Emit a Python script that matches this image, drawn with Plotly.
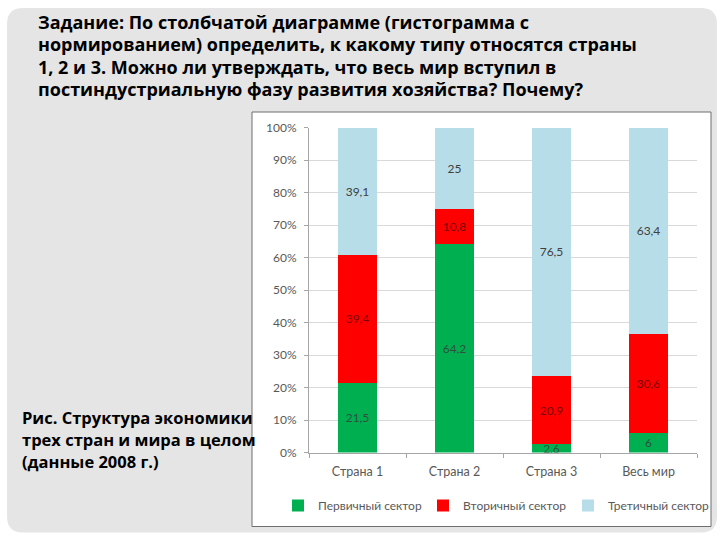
import plotly.graph_objects as go

W, H = 720, 540

categories = ["Страна 1", "Страна 2", "Страна 3", "Весь мир"]
primary = [21.5, 64.2, 2.6, 6]
secondary = [39.4, 10.8, 20.9, 30.6]
tertiary = [39.1, 25, 76.5, 63.4]
series_names = ["Первичный сектор", "Вторичный сектор", "Третичный сектор"]
y_ticks = [0, 10, 20, 30, 40, 50, 60, 70, 80, 90, 100]

title_lines = [
    "Задание: По столбчатой диаграмме (гистограмма с",
    "нормированием) определить, к какому типу относятся страны",
    "1, 2 и 3. Можно ли утверждать, что весь мир вступил в",
    "постиндустриальную фазу развития хозяйства? Почему?",
]
caption_lines = [
    "Рис. Структура экономики",
    "трех стран и мира в целом",
    "(данные 2008 г.)",
]


def fmt(v):
    s = ("%g" % v)
    return s.replace(".", ",")


def px(x):
    return x / W


# the photographed page maps the figure height onto ~525 px starting at ~7.5 px
def py(y):
    return 1 - (y - 7.5) / 525.0


colors = ["#00b050", "#ff0000", "#b7dde8"]
label_colors = ["#2f4f3f", "#7a0000", "#404040"]

fig = go.Figure()
for name, vals, c, lc in zip(series_names, [primary, secondary, tertiary], colors, label_colors):
    fig.add_trace(go.Bar(
        x=categories, y=vals, name=name,
        marker=dict(color=c, line=dict(width=0)),
        text=[fmt(v) for v in vals],
        textposition="inside", insidetextanchor="middle", textangle=0,
        textfont=dict(family="Lato, Open Sans, sans-serif", size=12, color=lc),
        hoverinfo="skip",
    ))

# rounded gray background panel
x0, y0, x1, y1, r = 7, 7.6, 717, 532, 16
path = (f"M {px(x0+r)},{py(y0)} L {px(x1-r)},{py(y0)} Q {px(x1)},{py(y0)} {px(x1)},{py(y0+r)} "
        f"L {px(x1)},{py(y1-r)} Q {px(x1)},{py(y1)} {px(x1-r)},{py(y1)} "
        f"L {px(x0+r)},{py(y1)} Q {px(x0)},{py(y1)} {px(x0)},{py(y1-r)} "
        f"L {px(x0)},{py(y0+r)} Q {px(x0)},{py(y0)} {px(x0+r)},{py(y0)} Z")
shapes = [
    dict(type="path", path=path, xref="paper", yref="paper",
         fillcolor="#e5e5e5", line=dict(width=0), layer="below"),
    dict(type="rect", xref="paper", yref="paper",
         x0=px(252), x1=px(711), y0=py(526), y1=py(111.5),
         fillcolor="white", line=dict(color="#6e6e6e", width=1), layer="below"),
]

annotations = []
for i, t in enumerate(title_lines):
    annotations.append(dict(
        text=t, xref="paper", yref="paper", x=px(36), y=py(21.5 + 22.3 * i),
        xanchor="left", yanchor="middle", showarrow=False,
        font=dict(family="Open Sans, DejaVu Sans, sans-serif", size=18, color="black", weight="bold"),
    ))
for i, t in enumerate(caption_lines):
    annotations.append(dict(
        text=t, xref="paper", yref="paper", x=px(20), y=py(417 + 22 * i),
        xanchor="left", yanchor="middle", showarrow=False,
        font=dict(family="Open Sans, DejaVu Sans, sans-serif", size=16.5, color="black", weight="bold"),
    ))

fig.update_layout(
    width=W, height=H, autosize=False,
    margin=dict(l=0, r=0, t=0, b=0),
    paper_bgcolor="white", plot_bgcolor="rgba(0,0,0,0)",
    barmode="stack", bargap=0.6,
    shapes=shapes, annotations=annotations,
    uniformtext=dict(minsize=12, mode="show"),
    showlegend=True,
    legend=dict(orientation="h", x=px(278), xanchor="left", y=py(505), yanchor="middle",
                entrywidth=100, entrywidthmode="pixels",
                font=dict(family="Lato, Open Sans, sans-serif", size=12, color="#595959"),
                bgcolor="rgba(0,0,0,0)", traceorder="normal"),
    xaxis=dict(domain=[px(309), px(697)], tickfont=dict(family="Lato, Open Sans, sans-serif", size=12.5, color="#595959"),
               showline=True, linecolor="#a6a6a6", ticks="outside", tickson="boundaries",
               ticklen=4, tickcolor="#a6a6a6", ticklabelstandoff=7, showgrid=False, fixedrange=True),
    yaxis=dict(domain=[py(452), py(127)], range=[0, 100], tickvals=y_ticks,
               ticktext=[f"{v}%" for v in y_ticks],
               tickfont=dict(family="Lato, Open Sans, sans-serif", size=12, color="#595959"),
               showline=True, linecolor="#a6a6a6", ticks="outside", ticklen=4, tickcolor="#a6a6a6",
               ticklabelstandoff=5,
               showgrid=True, gridcolor="#d9d9d9", zeroline=False, fixedrange=True),
)

fig.write_html(
    "out.html",
    config={"displayModeBar": False, "responsive": False},
    post_script=(
        "document.documentElement.style.margin='0';document.documentElement.style.overflow='hidden';"
        "document.body.style.margin='0';document.body.style.padding='0';document.body.style.overflow='hidden';"
        "var gd=document.getElementsByClassName('plotly-graph-div')[0];"
        "gd.style.position='fixed';gd.style.top='0px';gd.style.left='0px';"
    ),
)
